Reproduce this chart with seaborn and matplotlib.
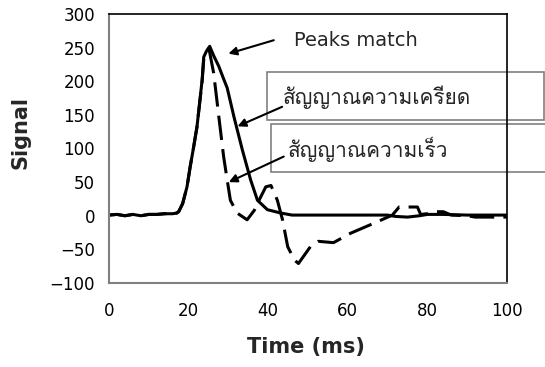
import numpy as np
import pandas as pd
import seaborn as sns
import matplotlib
matplotlib.use("Agg")
import matplotlib.pyplot as plt
from matplotlib import font_manager as fm
from matplotlib.ft2font import FT2Font
from matplotlib.patches import Rectangle

# ---- data ----
strain_t = [0, 2, 4, 6, 8, 10, 12, 14, 16, 17, 17.5, 18.5, 19.6, 20.4, 21.2, 22.1, 23.4, 23.8, 24.5, 25.3,
            26.3, 27.6, 28.7, 29.7, 31.4, 33.5, 35.6, 37.3, 39.8, 43.2, 46, 50, 60, 70, 72, 75, 78, 80, 84, 90, 100]
strain_v = [1, 2, 0, 2, 0, 2, 2, 3, 3, 4, 6, 18, 43, 73, 100, 132, 202, 236, 245, 252,
            238, 222, 205, 190, 147, 98, 53, 23, 9, 4, 1, 1, 1, 1, -1, -2, 0, 2, 2, 1, 1]

vel_t = [0, 2, 4, 6, 8, 10, 12, 14, 16, 17, 17.5, 18.5, 19.6, 20.4, 21.2, 22.1, 23.4, 23.8, 24.5, 25.2,
         26.3, 27.6, 28.8, 29.7, 30.5, 32.2, 34.7, 36.5, 37.7, 39.4, 40.7, 42.3, 43.6, 44.9, 46.6, 47.6,
         50.6, 52.6, 56.4, 60.7, 67, 71.2, 72.9, 75, 77.5, 78.3, 80, 81.5, 84, 86, 90, 92, 100]
vel_v = [1, 2, 0, 2, 0, 2, 2, 3, 3, 4, 6, 18, 43, 73, 100, 132, 200, 232, 242, 246,
         212, 147, 88, 53, 23, 4, -6, 8, 23, 43, 45, 23, -6, -46, -66, -71,
         -46, -38, -40, -26, -10, 1, 13, 13, 13, 2, 3, 6, 6, 1, 0, -2, -2]

xticks = [0, 20, 40, 60, 80, 100]
yticks = [-100, -50, 0, 50, 100, 150, 200, 250, 300]
label_peaks = "Peaks match"
label_strain = "สัญญาณความเครียด"
label_vel = "สัญญาณความเร็ว"

# ---- find a font that has Thai glyphs ----
thai_family = None
for f in fm.fontManager.ttflist:
    try:
        cm = FT2Font(f.fname).get_charmap()
        if 0x0E2A in cm and 0x0E0D in cm and 0x0E13 in cm:
            thai_family = f.name
            break
    except Exception:
        pass
thai_fonts = [thai_family, "DejaVu Sans"] if thai_family else ["DejaVu Sans"]

sns.set_theme(style="white")
plt.rcParams["font.family"] = ["DejaVu Sans"]

fig = plt.figure(figsize=(5.45, 3.67), dpi=100)
ax = fig.add_axes([109 / 545, 1 - 283 / 367, 398 / 545, 269 / 367])

df_s = pd.DataFrame({"t": strain_t, "v": strain_v})
df_v = pd.DataFrame({"t": vel_t, "v": vel_v})

sns.lineplot(data=df_v, x="t", y="v", ax=ax, color="black", linewidth=2.2,
             estimator=None, sort=False)
ax.lines[-1].set_linestyle((0, (8, 3)))
sns.lineplot(data=df_s, x="t", y="v", ax=ax, color="black", linewidth=2.2,
             estimator=None, sort=False)

ax.set_xlim(0, 100)
ax.set_ylim(-100, 300)
ax.set_xticks(xticks)
ax.set_yticks(yticks)
ax.tick_params(axis="both", direction="in", length=4, width=1, color="#808080",
               labelsize=12, labelcolor="black")
ax.tick_params(axis="y", pad=10)
ax.tick_params(axis="x", pad=14)
ax.tick_params(top=False, right=False)

for side in ["left", "bottom"]:
    ax.spines[side].set_color("#808080")
    ax.spines[side].set_linewidth(1.5)
for side in ["top", "right"]:
    ax.spines[side].set_color("black")
    ax.spines[side].set_linewidth(1.2)
    ax.spines[side].set_visible(True)

ax.set_xlabel("Time (ms)", fontsize=15, fontweight="bold")
ax.set_ylabel("Signal", fontsize=15, fontweight="bold")
ax.xaxis.set_label_coords(0.495, -0.2)
ax.yaxis.set_label_coords(-0.198, 0.56)

# boxes (extend beyond the axes on the right)
for (x0, y0, x1, y1) in [(267, 72, 544, 120), (271, 124, 548, 172)]:
    r = Rectangle((x0 / 545, 1 - y1 / 367), (x1 - x0) / 545, (y1 - y0) / 367,
                  transform=fig.transFigure, facecolor="white", edgecolor="#808080",
                  linewidth=1.2, clip_on=False, zorder=2)
    ax.add_patch(r)

ax.text(283 / 545, 1 - 97 / 367, label_strain, transform=fig.transFigure,
        ha="left", va="center", fontsize=15, family=thai_fonts, zorder=4)
ax.text(288 / 545, 1 - 149 / 367, label_vel, transform=fig.transFigure,
        ha="left", va="center", fontsize=15, family=thai_fonts, zorder=4)
ax.text(294 / 545, 1 - 40 / 367, label_peaks, transform=fig.transFigure,
        ha="left", va="center", fontsize=14, zorder=4)

arrow = dict(arrowstyle="-|>", color="black", lw=1.5, mutation_scale=12,
             shrinkA=0, shrinkB=0)
ax.annotate("", xy=(30.0, 241), xytext=(41.4, 261), arrowprops=arrow, zorder=5)
ax.annotate("", xy=(32.3, 133), xytext=(43.5, 162), arrowprops=arrow, zorder=5)
ax.annotate("", xy=(30.1, 50), xytext=(43.9, 88), arrowprops=arrow, zorder=5)

fig.savefig("out.png", dpi=100)
